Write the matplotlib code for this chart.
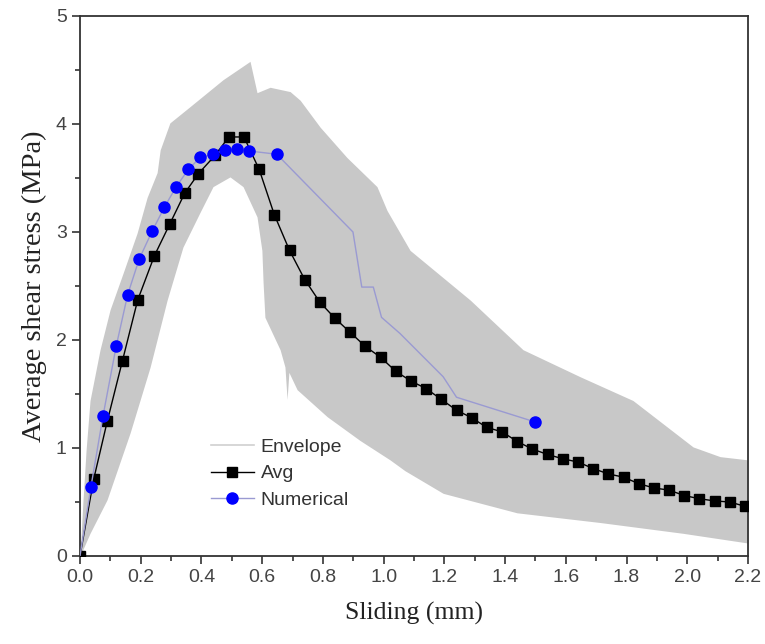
import matplotlib
matplotlib.use("Agg")
import matplotlib.pyplot as plt
from matplotlib.lines import Line2D
from matplotlib.ticker import MultipleLocator

# Envelope (upper / lower bounds), mm vs MPa
env_up_x = [0, 0.010, 0.020, 0.033, 0.066, 0.099, 0.142, 0.188, 0.221, 0.254, 0.264, 0.296,
            0.362, 0.471, 0.560, 0.583, 0.626, 0.692, 0.725, 0.791, 0.879, 0.978, 1.011,
            1.087, 1.186, 1.285, 1.459, 1.647, 1.821, 2.019, 2.108, 2.2]
env_up_y = [0, 0.52, 0.98, 1.44, 1.91, 2.28, 2.62, 2.99, 3.32, 3.55, 3.76, 4.01,
            4.16, 4.41, 4.58, 4.29, 4.34, 4.30, 4.22, 3.97, 3.69, 3.42, 3.20,
            2.83, 2.60, 2.37, 1.91, 1.66, 1.44, 1.01, 0.92, 0.89]
env_lo_x = [0, 0.033, 0.089, 0.165, 0.231, 0.287, 0.339, 0.395, 0.438, 0.494, 0.537, 0.583,
            0.599, 0.603, 0.609, 0.659, 0.675, 0.682, 0.688, 0.715, 0.814, 0.922, 1.021,
            1.07, 1.196, 1.439, 1.713, 1.986, 2.2]
env_lo_y = [0, 0.21, 0.52, 1.14, 1.75, 2.37, 2.86, 3.18, 3.42, 3.51, 3.42, 3.14,
            2.83, 2.53, 2.21, 1.91, 1.75, 1.45, 1.70, 1.54, 1.29, 1.07, 0.89,
            0.79, 0.58, 0.40, 0.31, 0.21, 0.12]

# Average experimental curve
avg_x = [0, 0.045, 0.09, 0.14, 0.19, 0.245, 0.295, 0.345, 0.39, 0.445, 0.49, 0.54, 0.59,
         0.64, 0.69, 0.74, 0.79, 0.84, 0.89, 0.94, 0.99, 1.04, 1.09, 1.14, 1.19, 1.24,
         1.29, 1.34, 1.39, 1.44, 1.49, 1.54, 1.59, 1.64, 1.69, 1.74, 1.79, 1.84, 1.89,
         1.94, 1.99, 2.04, 2.09, 2.14, 2.19]
avg_y = [0, 0.71, 1.25, 1.81, 2.37, 2.78, 3.07, 3.36, 3.54, 3.71, 3.88, 3.88, 3.58,
         3.16, 2.83, 2.56, 2.35, 2.20, 2.07, 1.94, 1.84, 1.71, 1.62, 1.55, 1.45, 1.35,
         1.28, 1.19, 1.15, 1.06, 0.99, 0.94, 0.90, 0.87, 0.81, 0.76, 0.73, 0.67, 0.63,
         0.61, 0.56, 0.53, 0.51, 0.50, 0.46]

# Numerical curve
num_x = [0, 0.036, 0.076, 0.119, 0.157, 0.195, 0.238, 0.278, 0.317, 0.357, 0.396, 0.439,
         0.477, 0.516, 0.558, 0.648, 0.899, 0.928, 0.966, 0.993, 1.054, 1.196, 1.24, 1.50]
num_y = [0, 0.64, 1.30, 1.94, 2.42, 2.75, 3.01, 3.23, 3.42, 3.58, 3.69, 3.72,
         3.76, 3.77, 3.75, 3.72, 3.00, 2.49, 2.49, 2.21, 2.06, 1.66, 1.47, 1.24]
num_marked = [1, 2, 3, 4, 5, 6, 7, 8, 9, 10, 11, 12, 13, 14, 15, 23]

fig = plt.figure(figsize=(7.65, 6.44), dpi=100)
ax = fig.add_axes([80/765, 1-556/644, (748-80)/765, (556-16)/644])

ax.fill_between(env_up_x, env_up_y, 0, color="#c8c8c8", lw=0, zorder=1)
ax.fill_between(env_lo_x, env_lo_y, 0, color="white", lw=0, zorder=1.5)

ax.plot(avg_x, avg_y, color="black", lw=1.0, marker="s", ms=6.5, mec="black",
        mfc="black", zorder=3)
ax.plot(num_x, num_y, color="#9a9ad2", lw=1.0, marker="o", ms=8, mfc="#0000ff",
        mec="#0000ff", markevery=num_marked, zorder=4)

ax.set_xlim(0, 2.2)
ax.set_ylim(0, 5)
ax.xaxis.set_major_locator(MultipleLocator(0.2))
ax.xaxis.set_minor_locator(MultipleLocator(0.1))
ax.yaxis.set_major_locator(MultipleLocator(1))
ax.yaxis.set_minor_locator(MultipleLocator(0.5))
ax.set_xticklabels([f"{v:.1f}" for v in ax.get_xticks()])
ax.tick_params(which="both", direction="out", color="#333333", width=1.2,
               labelcolor="#444444", labelsize=14)
ax.tick_params(which="major", length=6)
ax.tick_params(which="minor", length=3.5)
for lab in ax.get_xticklabels() + ax.get_yticklabels():
    lab.set_family("Liberation Sans")
for s in ax.spines.values():
    s.set_color("#333333")
    s.set_linewidth(1.3)

ax.set_xlabel("Sliding (mm)", family="Liberation Serif", fontsize=18.5, labelpad=11,
              color="#222222")
ax.set_ylabel("Average shear stress (MPa)", family="Liberation Serif", fontsize=20.5,
              labelpad=6, color="#222222")

handles = [Line2D([], [], color="#d0d0d0", lw=1.2),
           Line2D([], [], color="black", lw=1.0, marker="s", ms=6.5),
           Line2D([], [], color="#9a9ad2", lw=1.0, marker="o", ms=8, mfc="#0000ff",
                  mec="#0000ff")]
ax.legend(handles, ["Envelope", "Avg", "Numerical"], frameon=False,
          loc="upper left", bbox_to_anchor=(0.17, 0.25),
          prop={"family": "Liberation Sans", "size": 14}, labelcolor="#333333",
          handlelength=2.2, handletextpad=0.35, labelspacing=0.45)

fig.savefig("out.png", dpi=100)
